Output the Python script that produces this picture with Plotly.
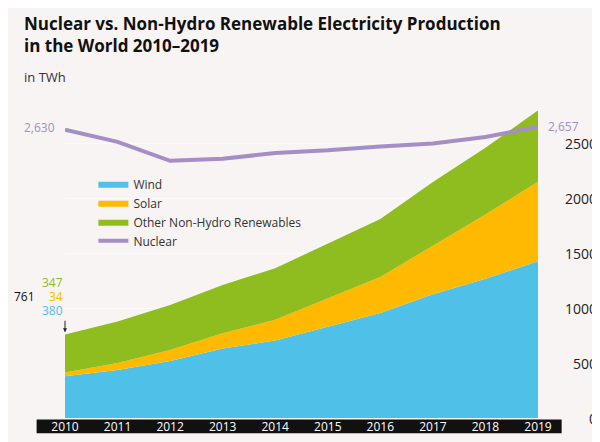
import plotly.graph_objects as go

years = list(range(2010, 2020))
wind = [380, 437, 521, 635, 706, 831, 957, 1128, 1270, 1430]
solar = [34, 64, 100, 139, 190, 256, 328, 444, 585, 724]
other = [347, 380, 410, 440, 470, 500, 530, 580, 610, 652]
nuclear = [2630, 2518, 2346, 2364, 2417, 2441, 2477, 2503, 2563, 2657]
yticks = [0, 500, 1000, 1500, 2000, 2500]

C_WIND = '#4fc1e8'
C_SOLAR = '#ffba00'
C_OTHER = '#8fbc1f'
C_NUC = '#a58dc6'
BG = '#f7f4f3'
FONT = 'Open Sans'

fig = go.Figure()
fig.add_trace(go.Scatter(x=years, y=wind, name='Wind', stackgroup='a', fillcolor=C_WIND,
                         line=dict(width=0, color=C_WIND)))
fig.add_trace(go.Scatter(x=years, y=solar, name='Solar', stackgroup='a', fillcolor=C_SOLAR,
                         line=dict(width=0, color=C_SOLAR)))
fig.add_trace(go.Scatter(x=years, y=other, name='Other Non-Hydro Renewables', stackgroup='a',
                         fillcolor=C_OTHER, line=dict(width=0, color=C_OTHER)))
fig.add_trace(go.Scatter(x=years, y=nuclear, name='Nuclear', mode='lines',
                         line=dict(width=4, color=C_NUC)))

ann = []
# y tick labels, right aligned
for t in yticks:
    ann.append(dict(x=1.13, xref='paper', y=t, yref='y', text=str(t), showarrow=False,
                    xanchor='right', font=dict(size=14, color='#222')))
# nuclear end labels
ann.append(dict(x=2010, y=nuclear[0] + 20, text='{:,}'.format(nuclear[0]), showarrow=False,
                xanchor='right', xshift=-8, font=dict(size=12, color=C_NUC)))
ann.append(dict(x=2019, y=nuclear[-1], text='{:,}'.format(nuclear[-1]), showarrow=False,
                xanchor='left', xshift=8, font=dict(size=12, color=C_NUC)))
# 2010 breakdown
t0 = wind[0] + solar[0] + other[0]
for v, c, dy in [(other[0], C_OTHER, 1240), (solar[0], C_SOLAR, 1110), (wind[0], C_WIND, 980)]:
    ann.append(dict(x=2010, y=dy, text=str(v), showarrow=False, xanchor='right', xshift=0,
                    font=dict(size=12, color=c)))
ann.append(dict(x=2010, y=1110, text='{:,}'.format(t0 - 0), showarrow=False, xanchor='right',
                xshift=-28, font=dict(size=12, color='#111')))
ann.append(dict(x=2010, y=t0 + 20, ax=2010, ay=900, axref='x', ayref='y', text='', showarrow=True,
                arrowhead=2, arrowsize=0.8, arrowwidth=1, arrowcolor='#222'))
# 2019 breakdown
t9 = wind[-1] + solar[-1] + other[-1]
for v, c, dy in [(other[-1], C_OTHER, 3300), (solar[-1], C_SOLAR, 3170), (wind[-1], C_WIND, 3040)]:
    ann.append(dict(x=2019, y=dy, text='{:,}'.format(v), showarrow=False, xanchor='right', xshift=14,
                    font=dict(size=12, color=c)))
ann.append(dict(x=2019, y=3170, text='{:,}'.format(t9), showarrow=False, xanchor='left',
                xshift=30, font=dict(size=12, color='#111')))
ann.append(dict(x=2019, y=t9 + 20, ax=2019, ay=2960, axref='x', ayref='y', text='', showarrow=True,
                arrowhead=2, arrowsize=0.8, arrowwidth=1, arrowcolor='#222'))
# titles
ann.append(dict(x=-0.09, xref='paper', y=1.33, yref='paper', xanchor='left', yanchor='top',
                align='left', showarrow=False,
                text='<b>Nuclear vs. Non-Hydro Renewable Electricity Production<br>in the World 2010–2019</b>',
                font=dict(size=17, color='#111')))
ann.append(dict(x=-0.09, xref='paper', y=1.145, yref='paper', xanchor='left', yanchor='top',
                showarrow=False, text='in TWh', font=dict(size=13, color='#333')))
ann.append(dict(x=0.37, xref='paper', y=-0.07, yref='paper', xanchor='center', yanchor='top',
                showarrow=False, text='© WNISR - M<span style="font-size:8px">YCLE</span> S<span style="font-size:8px">CHNEIDER</span> C<span style="font-size:8px">ONSULTING</span>',
                font=dict(size=10, color='#777')))

shapes = [
    dict(type='rect', xref='paper', yref='paper', x0=-0.06, x1=1.05, y0=-0.05, y1=-0.005,
         fillcolor='#111', line=dict(width=0), layer='below'),
    # brackets
    dict(type='path', xref='x', yref='y',
         path='M 2009.78,1260 L 2009.73,1260 L 2009.73,960 L 2009.78,960',
         line=dict(color='#333', width=1)),
    dict(type='path', xref='x', yref='y',
         path='M 2019.17,3330 L 2019.22,3330 L 2019.22,3020 L 2019.17,3020',
         line=dict(color='#333', width=1)),
]

fig.update_layout(
    width=600, height=442, paper_bgcolor=BG, plot_bgcolor=BG,
    margin=dict(l=57, r=70, t=103, b=32),
    font=dict(family=FONT, color='#222'),
    showlegend=True,
    legend=dict(x=0.06, y=0.81, xanchor='left', yanchor='top', bgcolor='rgba(0,0,0,0)',
                font=dict(size=12, color='#333'), tracegroupgap=4, traceorder='normal'),
    xaxis=dict(range=[2010, 2019], tickvals=years, showgrid=False, zeroline=False,
               tickfont=dict(size=12, color='white', family=FONT), ticks='', showline=False),
    yaxis=dict(range=[0, 2800], tickvals=yticks, showticklabels=False, showgrid=True,
               gridcolor='rgba(255,255,255,0.55)', gridwidth=1, zeroline=False, layer='above traces'),
    annotations=ann, shapes=shapes,
)
fig.write_html('out.html')
